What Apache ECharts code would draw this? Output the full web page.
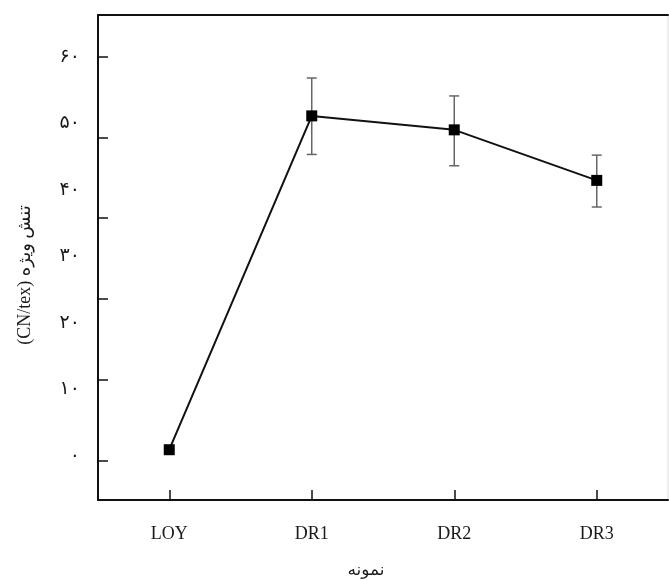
<!DOCTYPE html>
<html>
<head>
<meta charset="utf-8">
<script src="https://cdn.jsdelivr.net/npm/echarts@6/dist/echarts.min.js"></script>
<style>
html,body{margin:0;padding:0;background:#fff;}
#chart{width:669px;height:580px;}
</style>
</head>
<body>
<div id="chart"></div>
<script>
// ---- data ----
const categories = ['LOY', 'DR1', 'DR2', 'DR3'];
const tenacity = [0.9, 51.1, 49.0, 41.4];
const errLow = [0.9, 45.3, 43.6, 37.4];
const errHigh = [0.9, 56.8, 54.1, 45.2];
const yLabelValues = [0, 10, 20, 30, 40, 50, 60];
const yTickValues = [0, 10, 20, 30, 40, 50];
const xAxisTitle = 'نمونه';
const yAxisTitle = '(CN/tex) تنش ویژه';

const persianDigits = ['۰','۱','۲','۳','۴','۵','۶','۷','۸','۹'];
function toPersian(v) {
  return String(v).split('').map(function (c) {
    return /[0-9]/.test(c) ? persianDigits[+c] : c;
  }).join('');
}

const errData = categories.map(function (c, i) { return [i, errLow[i], errHigh[i]]; });

const chart = echarts.init(document.getElementById('chart'));
const option = {
  backgroundColor: '#ffffff',
  animation: false,
  grid: {
    left: 98, top: 15, width: 570, height: 485,
    show: true, borderColor: '#dddddd', borderWidth: 1,
    containLabel: false
  },
  xAxis: [{
    type: 'category',
    data: categories,
    boundaryGap: true,
    position: 'bottom',
    axisLine: { show: true, onZero: false, lineStyle: { color: '#111', width: 2 } },
    axisTick: { show: true, inside: true, alignWithLabel: true, length: 10, lineStyle: { color: '#111', width: 1.5 } },
    axisLabel: { margin: 25, color: '#1a1a1a', fontFamily: 'Liberation Serif', fontSize: 18 },
    splitLine: { show: false }
  }, {
    type: 'category',
    data: categories,
    position: 'top',
    axisLine: { show: true, onZero: false, lineStyle: { color: '#111', width: 2 } },
    axisTick: { show: false },
    axisLabel: { show: false },
    splitLine: { show: false }
  }],
  yAxis: [{
    type: 'value',
    min: -6.66, max: 66.27,
    position: 'left',
    axisLine: { show: false },
    axisTick: { show: false },
    splitLine: { show: false },
    axisLabel: {
      customValues: yLabelValues,
      margin: 18,
      color: '#1a1a1a',
      fontFamily: 'DejaVu Sans',
      fontSize: 19,
      formatter: function (v) { return toPersian(v); }
    }
  }, {
    type: 'value',
    min: -4.92, max: 55.17,
    position: 'left',
    offset: 0,
    alignTicks: false,
    axisLine: { show: true, onZero: false, lineStyle: { color: '#111', width: 2 } },
    axisTick: { show: true, inside: true, length: 10, customValues: yTickValues, lineStyle: { color: '#111', width: 1.5 } },
    axisLabel: { show: false },
    splitLine: { show: false }
  }],
  graphic: [{
    type: 'text',
    x: 366, y: 571,
    style: { text: xAxisTitle, fill: '#1a1a1a', font: '17px "DejaVu Sans"', align: 'center', verticalAlign: 'middle' }
  }, {
    type: 'text',
    x: 25, y: 275,
    rotation: Math.PI / 2,
    style: { text: yAxisTitle, fill: '#1a1a1a', font: '18px "Liberation Serif", "DejaVu Sans"', align: 'center', verticalAlign: 'middle' }
  }],
  series: [{
    type: 'custom',
    xAxisIndex: 0,
    yAxisIndex: 0,
    data: errData,
    z: 1,
    renderItem: function (params, api) {
      const x = api.value(0);
      const lo = api.coord([x, api.value(1)]);
      const hi = api.coord([x, api.value(2)]);
      if (Math.abs(lo[1] - hi[1]) < 1) { return null; }
      const st = { stroke: '#666', lineWidth: 1.5 };
      return {
        type: 'group',
        children: [
          { type: 'line', shape: { x1: lo[0], y1: lo[1], x2: hi[0], y2: hi[1] }, style: st },
          { type: 'line', shape: { x1: hi[0] - 5, y1: hi[1], x2: hi[0] + 5, y2: hi[1] }, style: st },
          { type: 'line', shape: { x1: lo[0] - 5, y1: lo[1], x2: lo[0] + 5, y2: lo[1] }, style: st }
        ]
      };
    }
  }, {
    type: 'line',
    xAxisIndex: 0,
    yAxisIndex: 0,
    data: tenacity,
    z: 3,
    symbol: 'rect',
    symbolSize: 11,
    lineStyle: { color: '#111', width: 2 },
    itemStyle: { color: '#000' }
  }]
};
chart.setOption(option);
</script>
</body>
</html>
